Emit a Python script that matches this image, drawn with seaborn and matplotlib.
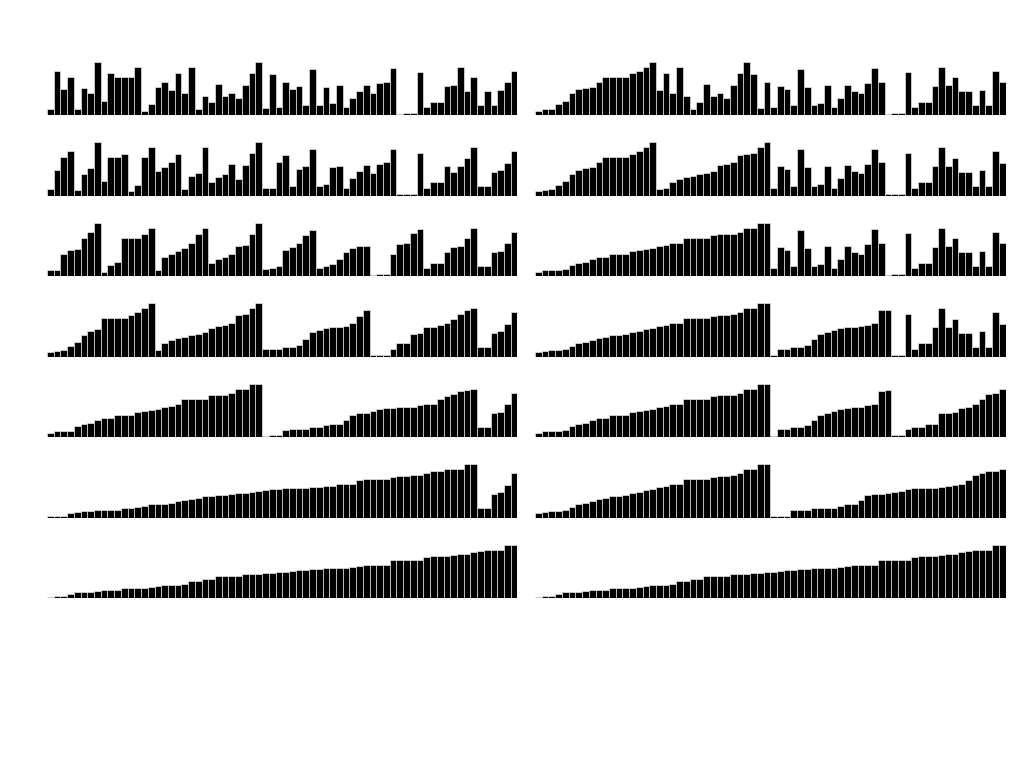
import matplotlib
matplotlib.use("Agg")
import matplotlib.pyplot as plt
import seaborn as sns
import pandas as pd

# starting array (max bar = 100)
raw = [12.5, 84, 48.5, 72, 11.5, 52, 41, 100, 27, 79,
       72.5, 72.5, 72.5, 91.5, 8.5, 20.5, 54, 62.5, 47, 79,
       42.5, 91.5, 37, 12.5, 25.5, 59.5, 35.5, 41, 32, 57.5,
       79.5, 100, 77, 14, 63, 15, 55, 49.5, 19, 87,
       54, 18.5, 22.5, 56, 15, 33, 57.5, 46.5, 42, 60.5,
       88, 62.5, 3, 3.5, 3.5, 81, 15, 25.5, 25, 55,
       91, 56, 71, 45, 45, 19, 47.5, 19, 84, 62]

# left column: bottom-up merge passes (sorted run length per row)
left_runs = [2, 4, 8, 16, 32, 64, 128]

# right column: top-down merge sort snapshots (sorted segments per row)
right_segs = [
    [(0, 18)],
    [(0, 18), (18, 35)],
    [(0, 35)],
    [(0, 35), (35, 53)],
    [(0, 35), (35, 53), (53, 70)],
    [(0, 35), (35, 70)],
    [(0, 70)],
]


def apply_segs(vals, segs):
    out = list(vals)
    for a, b in segs:
        out[a:b] = sorted(out[a:b])
    return out


n = len(raw)
panels_left = [apply_segs(raw, [(i, min(i + w, n)) for i in range(0, n, w)]) for w in left_runs]
panels_right = [apply_segs(raw, s) for s in right_segs]

sns.set_style("white")
fig, axes = plt.subplots(7, 2, figsize=(10.24, 7.68), dpi=100)
fig.subplots_adjust(left=47 / 1024, right=1005.5 / 1024, top=1 - 62 / 768,
                    bottom=1 - 598.3 / 768, wspace=0.0374, hspace=0.51)

for r in range(7):
    for c, vals in enumerate([panels_left[r], panels_right[r]]):
        ax = axes[r, c]
        df = pd.DataFrame({"pos": range(n), "val": vals})
        sns.barplot(data=df, x="pos", y="val", color="black", saturation=1,
                    width=1, edgecolor="white", linewidth=0.4, ax=ax)
        ax.set_xlim(-0.5, n - 0.5)
        ax.set_ylim(0, max(raw))
        ax.axis("off")

fig.savefig("out.png", dpi=100, facecolor="white")
